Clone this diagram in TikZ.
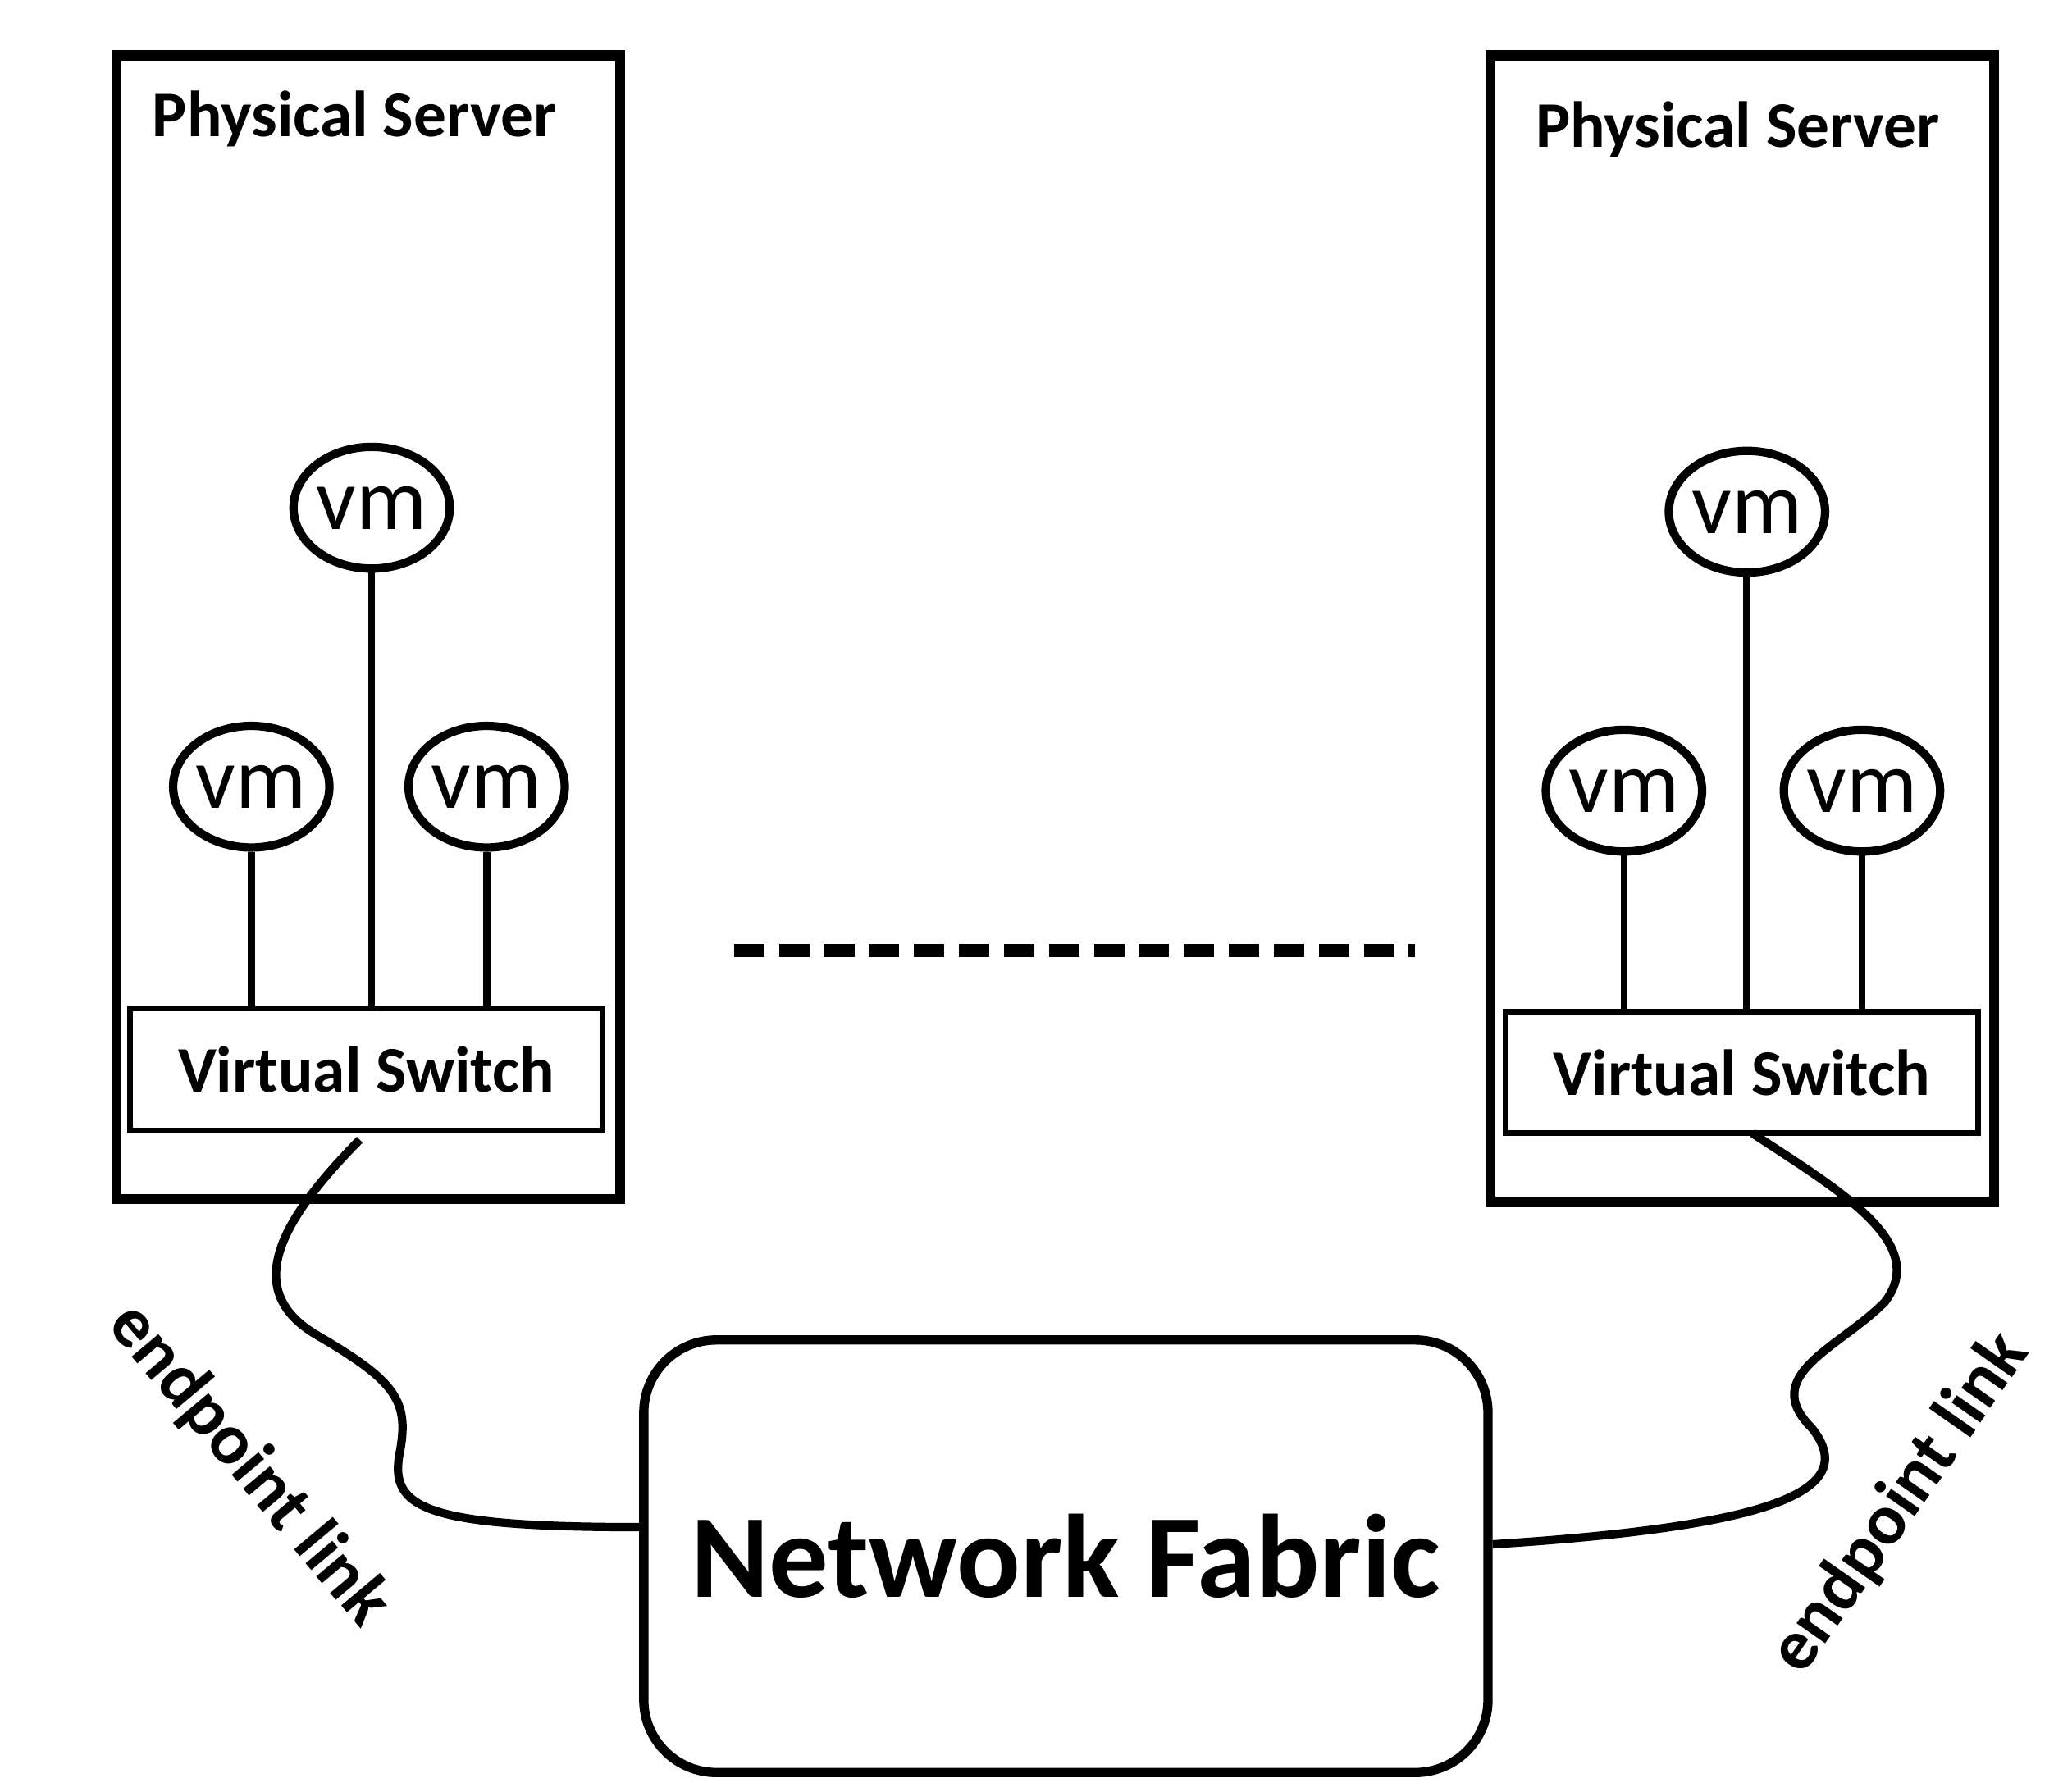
\documentclass[tikz,border=0pt]{standalone}
\usepackage{fontspec}
\usetikzlibrary{shapes.geometric}
\setmainfont{Carlito}
\begin{document}
\begin{tikzpicture}[x=0.01cm,y=-0.01cm,
  server/.style={draw,line width=2.2pt},
  vm/.style={draw,ellipse,line width=1.8pt,minimum width=1.14cm,minimum height=0.92cm,inner sep=0pt,font=\fontsize{19}{20}\selectfont},
  vsw/.style={draw,line width=1.2pt,minimum width=3.57cm,minimum height=0.92cm,inner sep=0pt,font=\bfseries\fontsize{14}{15}\selectfont},
  lbl/.style={font=\bfseries\fontsize{14}{15}\selectfont},
  elbl/.style={font=\bfseries\fontsize{15.5}{17}\selectfont},
  wire/.style={line width=1.5pt},
  cable/.style={line width=1.8pt}]
\useasboundingbox (0,0) rectangle (1560,1355);
\fill[white] (0,0) rectangle (1560,1355);
\draw[server] (88,42) rectangle (469,907);
\draw[server] (1127,42) rectangle (1508,909);
\node[lbl] (ps1) at (268,90) {Physical Server};
\node[lbl] (ps2) at (1314,98) {Physical Server};
\node[vm] (v1) at (281,384) {vm};
\node[vm] (v2) at (190,595) {vm};
\node[vm] (v3) at (368,595) {vm};
\node[vm] (v4) at (1321,387) {vm};
\node[vm] (v5) at (1228,598) {vm};
\node[vm] (v6) at (1408,598) {vm};
\node[vsw] (s1) at (277,809) {Virtual Switch};
\node[vsw] (s2) at (1317,811) {Virtual Switch};
\draw[wire] (v2.south) -- (v2.south |- s1.north);
\draw[wire] (v1.south) -- (v1.south |- s1.north);
\draw[wire] (v3.south) -- (v3.south |- s1.north);
\draw[wire] (v5.south) -- (v5.south |- s2.north);
\draw[wire] (v4.south) -- (v4.south |- s2.north);
\draw[wire] (v6.south) -- (v6.south |- s2.north);
\coordinate (d1) at (555,719); \coordinate (d2) at (1070,719);
\draw[line width=2.8pt,dash pattern=on 0.23cm off 0.11cm] (d1) -- (d2);
\node[draw,line width=2pt,rounded corners=0.55cm,minimum width=6.38cm,minimum height=3.27cm,font=\bfseries\fontsize{25.5}{28}\selectfont] (nf) at (806,1177) {Network Fabric};
\coordinate (c1) at (272,862);
\coordinate (c2) at (1325,857);
\draw[cable] (c1) .. controls (215,920) and (180,975) .. (240,1010)
  .. controls (300,1045) and (310,1060) .. (302,1100)
  .. controls (295,1140) and (320,1155) .. (nf.west |- 0,1155);
\draw[cable] (c2) .. controls (1390,900) and (1460,940) .. (1425,985)
  .. controls (1390,1020) and (1330,1040) .. (1370,1080)
  .. controls (1410,1130) and (1330,1155) .. (nf.east |- 0,1168);
\node[elbl,rotate=-50] (e1) at (188,1108) {endpoint link};
\node[elbl,rotate=55] (e2) at (1437,1137) {endpoint link};
\end{tikzpicture}
\end{document}
